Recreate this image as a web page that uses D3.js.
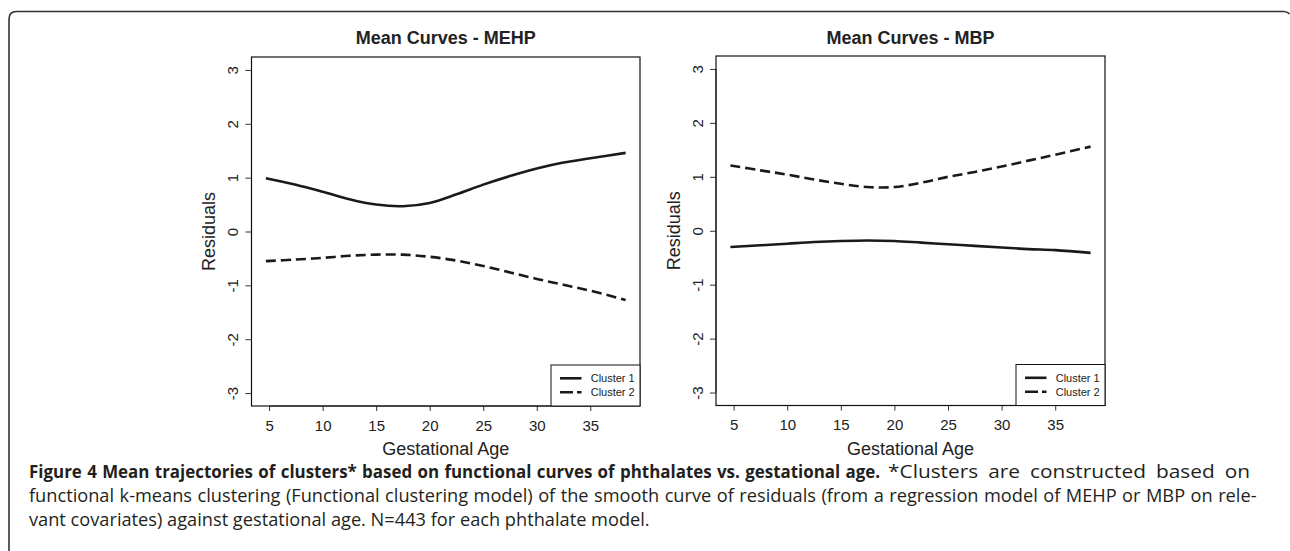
<!DOCTYPE html>
<html>
<head>
<meta charset="utf-8">
<script src="https://cdn.jsdelivr.net/npm/d3@7"></script>
<style>
  html, body { margin: 0; padding: 0; background: #fff; }
  svg { display: block; }
</style>
</head>
<body>
<svg id="chart" width="1290" height="551"></svg>
<script>
// ---------------- data ----------------
const ageGrid = [4.7, 7.5, 10, 12.5, 15, 17.5, 20, 22.5, 25, 27.5, 30, 32.5, 35, 38.3];
const mehpCluster1 = [0.99, 0.87, 0.74, 0.60, 0.50, 0.47, 0.53, 0.69, 0.87, 1.03, 1.17, 1.28, 1.36, 1.46];
const mehpCluster2 = [-0.55, -0.52, -0.49, -0.45, -0.43, -0.43, -0.47, -0.54, -0.64, -0.76, -0.88, -0.99, -1.10, -1.27];
const mbpCluster1 = [-0.30, -0.27, -0.24, -0.21, -0.19, -0.18, -0.19, -0.22, -0.25, -0.28, -0.31, -0.34, -0.36, -0.41];
const mbpCluster2 = [1.21, 1.12, 1.04, 0.95, 0.87, 0.81, 0.81, 0.89, 1.00, 1.09, 1.19, 1.30, 1.41, 1.56];

const xTicks = [5, 10, 15, 20, 25, 30, 35];
const yTicks = [-3, -2, -1, 0, 1, 2, 3];
const seriesNames = ["Cluster 1", "Cluster 2"];
const panelTitles = ["Mean Curves - MEHP", "Mean Curves - MBP"];
const xLabel = "Gestational Age";
const yLabel = "Residuals";

const captionBold = "Figure 4 Mean trajectories of clusters* based on functional curves of phthalates vs. gestational age.";
const captionLine1 = "*Clusters are constructed based on";
const captionLine2 = "functional k-means clustering (Functional clustering model) of the smooth curve of residuals (from a regression model of MEHP or MBP on rele-";
const captionLine3 = "vant covariates) against gestational age. N=443 for each phthalate model.";

// ---------------- drawing ----------------
const svg = d3.select("#chart");
const ink = "#222";
const chartFont = "'Liberation Sans', Arial, Helvetica, sans-serif";
const fmt = d => String(d);

// figure frame
svg.append("path")
  .attr("d", "M9,551 V19 Q9,11.5 16.5,11.5 H1284 Q1287,11.5 1289.5,14")
  .attr("fill", "none").attr("stroke", "#333").attr("stroke-width", 1.6);

const panels = [
  { box: { x0: 251.5, x1: 640, y0: 57, y1: 406 }, title: panelTitles[0], s1: mehpCluster1, s2: mehpCluster2 },
  { box: { x0: 716, x1: 1105, y0: 56, y1: 405.5 }, title: panelTitles[1], s1: mbpCluster1, s2: mbpCluster2 }
];

const xExt = d3.extent(ageGrid);
const xPad = (xExt[1] - xExt[0]) * 0.04;

panels.forEach(p => {
  const b = p.box;
  const x = d3.scaleLinear().domain([xExt[0] - xPad, xExt[1] + xPad]).range([b.x0, b.x1]);
  const y = d3.scaleLinear().domain([-3.24, 3.24]).range([b.y1, b.y0]);
  const g = svg.append("g");

  // title
  g.append("text")
    .attr("x", (b.x0 + b.x1) / 2).attr("y", 44)
    .attr("text-anchor", "middle")
    .attr("font-family", chartFont).attr("font-weight", "bold").attr("font-size", 18)
    .attr("fill", ink).text(p.title);

  // x axis
  const xa = g.append("g").attr("transform", `translate(0,${b.y1})`)
    .call(d3.axisBottom(x).tickValues(xTicks).tickSize(5).tickFormat(fmt));
  xa.attr("font-family", chartFont).attr("font-size", 15);
  xa.select(".domain").attr("d", `M${x(xTicks[0])},0H${x(xTicks[xTicks.length - 1])}`).attr("stroke", "#333");
  xa.selectAll(".tick line").attr("stroke", "#333");
  xa.selectAll(".tick text")
    .attr("y", 24.5).attr("dy", null)
    .attr("font-size", 15).attr("fill", ink);

  // y axis
  const ya = g.append("g").attr("transform", `translate(${b.x0},0)`)
    .call(d3.axisLeft(y).tickValues(yTicks).tickSize(6).tickFormat(fmt));
  ya.attr("font-family", chartFont).attr("font-size", 15);
  ya.select(".domain").attr("d", `M0,${y(yTicks[0])}V${y(yTicks[yTicks.length - 1])}`).attr("stroke", "#333");
  ya.selectAll(".tick line").attr("stroke", "#333");
  ya.selectAll(".tick text")
    .attr("x", null).attr("dy", null).attr("y", 0)
    .attr("text-anchor", "middle")
    .attr("transform", "translate(-13.5,0) rotate(-90)")
    .attr("font-size", 15).attr("fill", ink);

  // box
  g.append("rect")
    .attr("x", b.x0).attr("y", b.y0).attr("width", b.x1 - b.x0).attr("height", b.y1 - b.y0)
    .attr("fill", "none").attr("stroke", "#111").attr("stroke-width", 1.2);

  // axis labels
  g.append("text")
    .attr("x", (b.x0 + b.x1) / 2).attr("y", 454.5)
    .attr("text-anchor", "middle")
    .attr("font-family", chartFont).attr("font-size", 18).attr("fill", ink)
    .text(xLabel);
  g.append("text")
    .attr("transform", `translate(${b.x0 - 36.5},${(b.y0 + b.y1) / 2}) rotate(-90)`)
    .attr("text-anchor", "middle")
    .attr("font-family", chartFont).attr("font-size", 18).attr("fill", ink)
    .text(yLabel);

  // lines
  const line = d3.line().x((d, i) => x(ageGrid[i])).y(d => y(d)).curve(d3.curveCatmullRom.alpha(0.5));
  g.append("path").datum(p.s1).attr("d", line)
    .attr("fill", "none").attr("stroke", "#1a1a1a").attr("stroke-width", 2.6);
  g.append("path").datum(p.s2).attr("d", line)
    .attr("fill", "none").attr("stroke", "#1a1a1a").attr("stroke-width", 2.6)
    .attr("stroke-dasharray", "10,5");

  // legend
  const lx0 = b.x1 - 89, ly0 = b.y1 - 41;
  g.append("rect")
    .attr("x", lx0).attr("y", ly0).attr("width", b.x1 - lx0).attr("height", b.y1 - ly0)
    .attr("fill", "#fff").attr("stroke", "#111").attr("stroke-width", 1);
  seriesNames.forEach((name, i) => {
    const yy = b.y1 - 27.7 + i * 14;
    g.append("line")
      .attr("x1", lx0 + 9).attr("x2", lx0 + 30.5).attr("y1", yy).attr("y2", yy)
      .attr("stroke", "#1a1a1a").attr("stroke-width", 2.6)
      .attr("stroke-dasharray", i === 0 ? null : "13,4");
    g.append("text")
      .attr("x", lx0 + 39.7).attr("y", yy + 4)
      .attr("font-family", chartFont).attr("font-size", 11).attr("fill", ink)
      .text(name);
  });
});

// caption (justified text: lines 1 and 2 span to the right edge, line 3 is natural)
const capFont = "'Open Sans', 'Noto Sans', sans-serif";
const capColor = "#231f20";
const capX = 29, line3Right = 650;

// pick the font size so that the unjustified last line has its natural width
const probe = svg.append("text").attr("font-family", capFont).attr("font-size", 16).text(captionLine3);
const probeW = probe.node().getComputedTextLength();
probe.remove();
const capSize = probeW > 0 ? 16 * (line3Right - capX) / probeW : 16;

// mode "scale": squeeze/stretch horizontally with a transform so the box stays true
// mode "justify": widen the word gaps only
function capText(str, x0, x1, y, bold, mode, wordGap) {
  const t = svg.append("text")
    .attr("x", 0).attr("y", 0)
    .attr("font-family", capFont).attr("font-size", capSize)
    .attr("font-weight", bold ? "bold" : "normal")
    .attr("fill", capColor)
    .attr("transform", `translate(${x0},${y})`)
    .text(str);
  if (wordGap) t.attr("word-spacing", wordGap);
  const w = t.node().getComputedTextLength();
  if (!(w > 0)) return t;
  if (mode === "scale") {
    t.attr("transform", `translate(${x0},${y}) scale(${(x1 - x0) / w},1)`);
  } else if (mode === "justify") {
    const spaces = (str.match(/ /g) || []).length;
    if (spaces > 0) t.attr("word-spacing", (wordGap || 0) + ((x1 - x0) - w) / spaces);
  }
  return t;
}
capText(captionBold, capX, 880, 478, true, "scale", 1);
capText(captionLine1, 888, 1250, 478, false, "scale", 4);
capText(captionLine2, capX, 1256.5, 502, false, "justify");
capText(captionLine3, capX, line3Right, 526, false, null);
</script>
</body>
</html>
